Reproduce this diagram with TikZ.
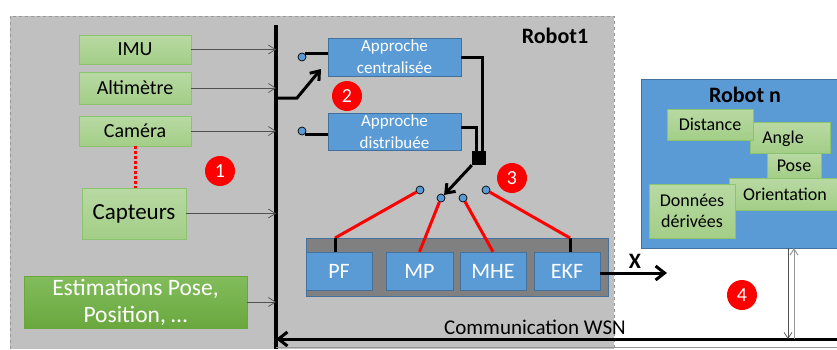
\documentclass[tikz,border=0pt]{standalone}
\usepackage{fontspec}
\setmainfont{Carlito}
\usetikzlibrary{arrows.meta, positioning, calc}
\definecolor{colGray}{RGB}{192,192,192}
\definecolor{colFrame}{RGB}{150,150,150}
\definecolor{colGreenTop}{RGB}{184,217,163}
\definecolor{colGreenBot}{RGB}{163,206,135}
\definecolor{colGreenLine}{RGB}{140,195,110}
\definecolor{colDarkTop}{RGB}{130,188,92}
\definecolor{colDarkBot}{RGB}{106,168,62}
\definecolor{colBlue}{RGB}{91,155,213}
\definecolor{colBlueLine}{RGB}{65,113,156}
\definecolor{colBar}{RGB}{128,128,128}
\definecolor{colWire}{RGB}{80,80,80}

\tikzset{
    sensor/.style={draw=colGreenLine, top color=colGreenTop, bottom color=colGreenBot,
        inner sep=0pt, text=black},
    approach/.style={draw=colBlueLine, fill=colBlue, text=white, align=center,
        minimum width=133pt, inner sep=0pt, font=\fontsize{17}{22}\selectfont},
    filt/.style={draw=colBlueLine, fill=colBlue, text=white, minimum width=66pt,
        minimum height=38pt, inner sep=0pt, font=\fontsize{22}{24}\selectfont},
    term/.style={circle, draw=black, fill=colBlue, minimum size=8pt, inner sep=0pt, line width=0.7pt},
    badge/.style={circle, fill=red, text=white, minimum size=30pt, inner sep=0pt,
        font=\fontsize{20}{22}\selectfont},
    feed/.style={colWire, line width=0.7pt, -{Straight Barb[length=7pt,width=9pt]}},
    bold/.style={black, line width=3pt},
    redline/.style={red, line width=3pt}
}

\begin{document}
\begin{tikzpicture}[x=1pt, y=-1pt, every node/.style={font=\fontsize{20}{22}\selectfont}]
    \useasboundingbox (0,0) rectangle (837,349);

    % Robot1 (zone grise)
    \fill[colGray] (10,16) rectangle (614,349);
    \draw[colFrame, dashed, line width=0.8pt] (10,349) -- (10,16) -- (614,16) -- (614,349);
    \node[font=\fontsize{22}{24}\selectfont\bfseries] (r1Title) at (555,36) {Robot1};

    % Bus
    \coordinate (busTop) at (276,25);
    \coordinate (busBot) at (276,349);
    \draw[black, line width=3.2pt] (busTop) -- (busBot);

    % Capteurs
    \node[sensor, minimum width=112pt, minimum height=29pt] (imu) at (135,49.5) {IMU};
    \node[sensor, minimum width=112pt, minimum height=32pt] (alt) at (135,88) {Altimètre};
    \node[sensor, minimum width=112pt, minimum height=30pt] (cam) at (135,131) {Caméra};
    \node[sensor, minimum width=104pt, minimum height=51pt, font=\fontsize{23}{25}\selectfont] (cap) at (134,213.5) {Capteurs};
    \node[sensor, draw=colDarkBot, top color=colDarkTop, bottom color=colDarkBot, text=white,
        align=center, minimum width=223pt, minimum height=52pt,
        font=\fontsize{23.5}{27}\selectfont] (est) at (135.5,302) {Estimations Pose,\\Position, \dots};
    \draw[red, dotted, line width=3pt] (cam.south) -- (cam.south |- cap.north);

    \foreach \s in {imu, alt, cam, cap, est}
        \draw[feed] (\s.east) -- (\s.east -| busTop);

    \node[badge] (b1) at (220,171) {1};

    % Approches
    \node[approach, minimum height=38pt] (cen) at (394.5,57) {Approche\\centralisée};
    \node[approach, minimum height=37pt] (dis) at (394.5,131.5) {Approche\\distribuée};
    \node[term] (tA) at (302,57) {};
    \node[term] (tB) at (302,131) {};
    \draw[bold] (tA.north east) -- (tA.north east -| cen.west);
    \draw[bold] (tB.south east) -- (tB.south east -| dis.west);

    \coordinate (swPivot) at (297,98);
    \coordinate (swTip) at (321,69);
    \draw[bold, -{Straight Barb[length=8pt,width=12pt]}] (swPivot -| busTop) -- (swPivot) -- (swTip);
    \node[badge] (b2) at (347,96) {2};

    % Selecteur
    \node[fill=black, minimum size=14pt, inner sep=0pt] (sq) at (479,158) {};
    \draw[bold] (cen.east) -| ($(sq.north)+(3,0)$);
    \draw[bold] ($(dis.east)+(0,-4)$) -| ($(sq.north)+(-3,0)$);

    \node[term] (s1) at (420,190) {};
    \node[term] (s2) at (441,198) {};
    \node[term] (s3) at (463,198) {};
    \node[term] (s4) at (486,190) {};
    \draw[bold, -{Straight Barb[length=8pt,width=12pt]}] (sq.south west) -- (s2.north east);
    \node[badge] (b3) at (512,178) {3};

    % Filtres
    \node[draw=colBlueLine, fill=colBar, minimum width=302pt, minimum height=58pt, inner sep=0pt] (bank) at (457,267) {};
    \node[filt] (pf) at (339,271) {PF};
    \node[filt, minimum width=67pt] (mp) at (419.5,271) {MP};
    \node[filt] (mhe) at (493,271) {MHE};
    \node[filt] (ekf) at (567,271) {EKF};

    \coordinate (pfTap) at (335,238);
    \coordinate (ekfTap) at (570,238);
    \draw[redline] (s1) -- (pfTap);
    \draw[redline] (s2) -- (mp.north);
    \draw[redline] (s3) -- (mhe.north);
    \draw[redline] (s4) -- (ekfTap);
    \draw[bold] (pfTap) -- (pfTap |- pf.north);
    \draw[bold] (ekfTap) -- (ekfTap |- ekf.north);

    \coordinate (xEnd) at (667,273);
    \draw[bold, -{Straight Barb[length=9pt,width=14pt]}] (ekf.east |- xEnd) -- (xEnd);
    \node[font=\fontsize{22}{24}\selectfont\bfseries] (xLab) at (635,261) {X};

    % Robot n
    \node[draw=colBlueLine, fill=colBlue, minimum width=204pt, minimum height=169pt, inner sep=0pt] (rn) at (743,163.5) {};
    \node[font=\fontsize{22}{24}\selectfont\bfseries] (rnTitle) at (745,95) {Robot n};
    \node[sensor, minimum width=80pt, minimum height=31pt, font=\fontsize{18}{21}\selectfont, text depth=0pt] (ang) at (790,137.5) {\hspace*{-14pt}Angle};
    \node[sensor, minimum width=86pt, minimum height=31pt, font=\fontsize{18}{21}\selectfont] (dst) at (710,124.5) {Distance};
    \node[sensor, minimum width=54pt, minimum height=25pt, font=\fontsize{18}{21}\selectfont] (pose) at (794,165.5) {Pose};
    \node[sensor, minimum width=112pt, minimum height=32pt, font=\fontsize{18}{21}\selectfont] (ori) at (785,194) {Orientation};
    \node[sensor, align=center, minimum width=86pt, minimum height=54pt, font=\fontsize{18}{21}\selectfont] (don) at (692,211) {Données\\dérivées};

    % Communication WSN
    \coordinate (wsnEnd) at (837,339);
    \draw[bold, -{Straight Barb[length=9pt,width=14pt]}] (wsnEnd) -- (wsnEnd -| busTop);
    \node[font=\fontsize{21}{23}\selectfont] (wsnLab) at (535,327) {Communication WSN};
    \draw[colFrame, line width=0.6pt] (busBot |- 0,347) -- (837,347);

    \coordinate (downEnd) at (788,339);
    \coordinate (upStart) at (794,339);
    \draw[colWire, line width=0.7pt, -{Straight Barb[length=6pt,width=8pt]}] (downEnd |- rn.south) -- (downEnd);
    \draw[colFrame, line width=1pt, -{Straight Barb[length=6pt,width=8pt]}] (upStart) -- (upStart |- rn.south);
    \node[badge] (b4) at (742,295) {4};
\end{tikzpicture}
\end{document}
